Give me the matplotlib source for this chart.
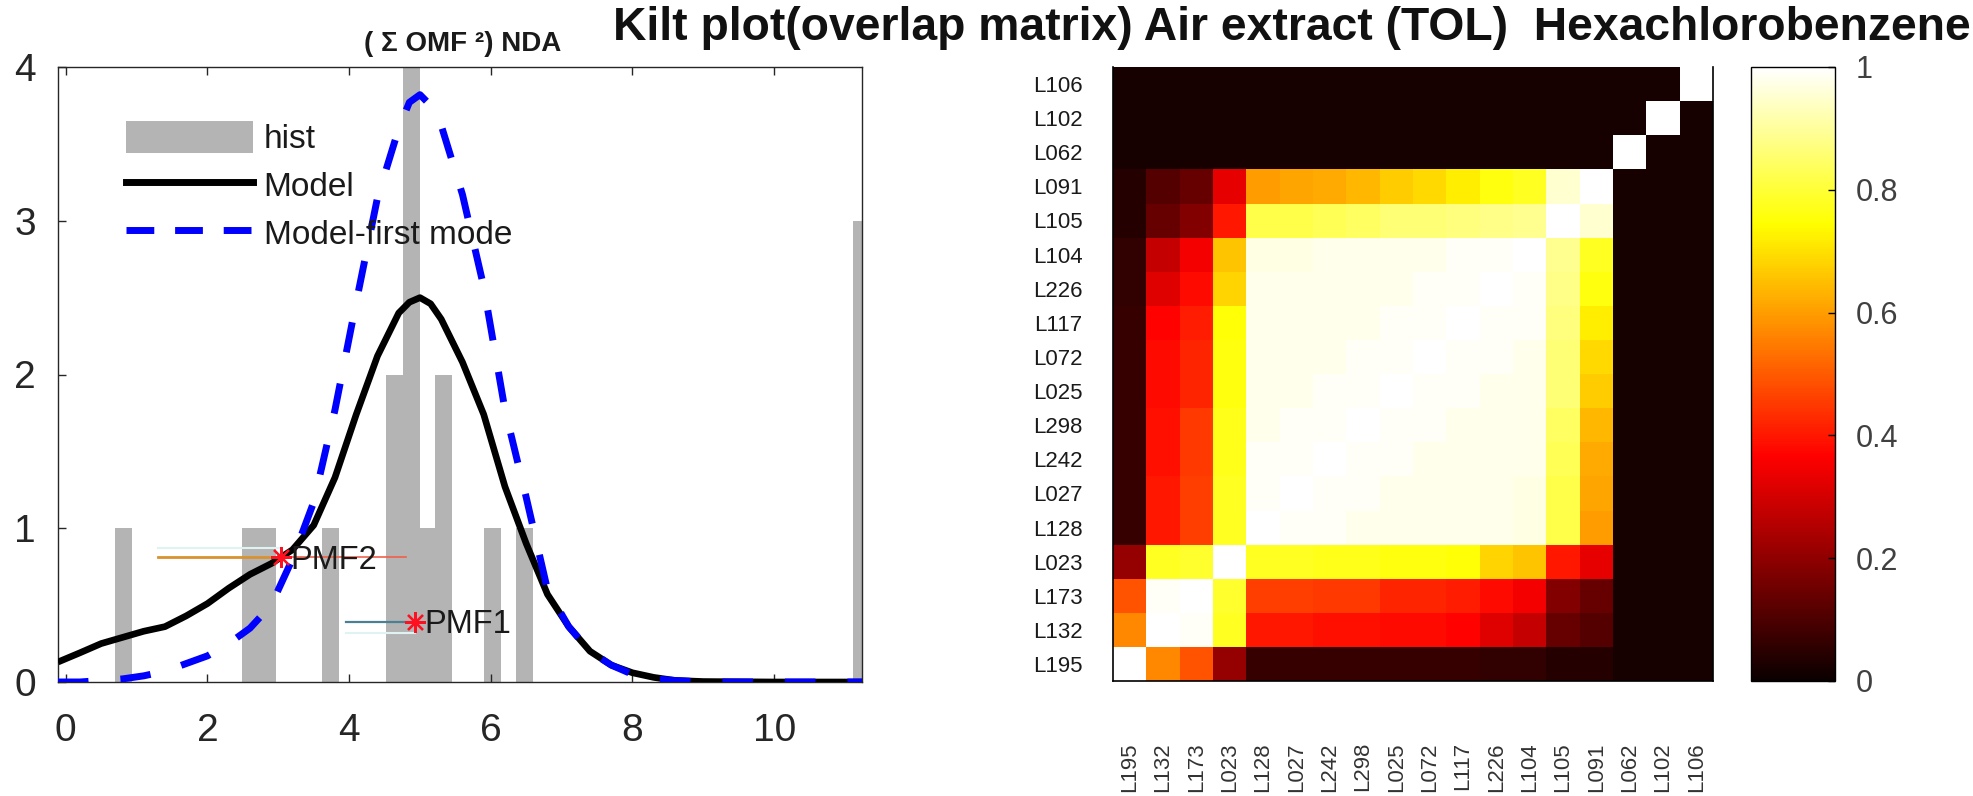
import matplotlib
matplotlib.use('Agg')
import matplotlib.pyplot as plt
import numpy as np
from matplotlib.patches import Patch
from matplotlib.lines import Line2D

plt.rcParams['font.family'] = ['Liberation Sans', 'DejaVu Sans']

# ---------------- data: left panel ----------------
hist_centers = [0.81, 2.61, 2.85, 3.74, 4.64, 4.885, 5.11, 5.33, 6.02, 6.48, 11.24]
hist_counts = [1, 1, 1, 1, 2, 4, 1, 2, 1, 1, 3]

model_x = [-0.11, 0.2, 0.5, 0.8, 1.1, 1.4, 1.7, 2.0, 2.3, 2.6, 2.9, 3.2, 3.5, 3.8,
           4.1, 4.4, 4.7, 4.85, 5.0, 5.15, 5.3, 5.6, 5.9, 6.2, 6.5, 6.8, 7.1, 7.4,
           7.7, 8.0, 8.3, 8.6, 9.0, 10.0, 11.24]
model_y = [0.13, 0.19, 0.25, 0.29, 0.33, 0.36, 0.43, 0.51, 0.61, 0.70, 0.77, 0.86, 1.02, 1.33,
           1.74, 2.12, 2.40, 2.47, 2.50, 2.46, 2.36, 2.08, 1.74, 1.27, 0.90, 0.57, 0.36, 0.20,
           0.11, 0.06, 0.03, 0.01, 0.003, 0.0, 0.0]
mode1_y = [0.0, 0.0, 0.01, 0.02, 0.04, 0.07, 0.12, 0.17, 0.25, 0.35, 0.50, 0.80, 1.17, 1.77,
           2.47, 3.15, 3.60, 3.77, 3.82, 3.75, 3.62, 3.17, 2.57, 1.77, 1.20, 0.60, 0.36, 0.20,
           0.11, 0.05, 0.02, 0.01, 0.0, 0.0, 0.0]

pmf_names = ['PMF1', 'PMF2']
pmf_x = [4.93, 3.04]
pmf_y = [0.39, 0.81]
pmf_lo = [3.95, 1.30]
pmf_hi = [4.93, 4.80]

legend_labels = ['hist', 'Model', 'Model-first mode']
left_title = '( \u03a3 OMF \u00b2) NDA'
main_title = 'Kilt plot(overlap matrix) Air extract (TOL)  Hexachlorobenzene'

# ---------------- data: right panel ----------------
labels = ['L195', 'L132', 'L173', 'L023', 'L128', 'L027', 'L242', 'L298', 'L025',
          'L072', 'L117', 'L226', 'L104', 'L105', 'L091', 'L062', 'L102', 'L106']
overlap = [
    [1.00, 0.57, 0.49, 0.21, 0.07, 0.07, 0.07, 0.07, 0.07, 0.07, 0.07, 0.06, 0.06, 0.04, 0.04, 0.02, 0.02, 0.02],
    [0.57, 1.00, 0.99, 0.78, 0.40, 0.40, 0.39, 0.39, 0.38, 0.38, 0.37, 0.32, 0.28, 0.14, 0.11, 0.02, 0.02, 0.02],
    [0.49, 0.99, 1.00, 0.79, 0.46, 0.46, 0.45, 0.45, 0.42, 0.42, 0.41, 0.38, 0.35, 0.18, 0.14, 0.02, 0.02, 0.02],
    [0.21, 0.78, 0.79, 1.00, 0.78, 0.78, 0.77, 0.77, 0.76, 0.76, 0.75, 0.68, 0.66, 0.40, 0.33, 0.02, 0.02, 0.02],
    [0.07, 0.40, 0.46, 0.78, 1.00, 0.99, 0.99, 0.98, 0.98, 0.98, 0.98, 0.98, 0.97, 0.82, 0.60, 0.02, 0.02, 0.02],
    [0.07, 0.40, 0.46, 0.78, 0.99, 1.00, 0.99, 0.99, 0.98, 0.98, 0.98, 0.98, 0.97, 0.82, 0.61, 0.02, 0.02, 0.02],
    [0.07, 0.39, 0.45, 0.77, 0.99, 0.99, 1.00, 0.99, 0.99, 0.98, 0.98, 0.98, 0.98, 0.83, 0.62, 0.02, 0.02, 0.02],
    [0.07, 0.39, 0.45, 0.77, 0.98, 0.99, 0.99, 1.00, 0.99, 0.99, 0.98, 0.98, 0.98, 0.84, 0.64, 0.02, 0.02, 0.02],
    [0.07, 0.38, 0.42, 0.76, 0.98, 0.98, 0.99, 0.99, 1.00, 0.99, 0.99, 0.98, 0.98, 0.86, 0.67, 0.02, 0.02, 0.02],
    [0.07, 0.38, 0.42, 0.76, 0.98, 0.98, 0.98, 0.99, 0.99, 1.00, 0.99, 0.99, 0.98, 0.86, 0.69, 0.02, 0.02, 0.02],
    [0.07, 0.37, 0.41, 0.75, 0.98, 0.98, 0.98, 0.98, 0.99, 0.99, 1.00, 0.99, 0.99, 0.87, 0.72, 0.02, 0.02, 0.02],
    [0.06, 0.32, 0.38, 0.68, 0.98, 0.98, 0.98, 0.98, 0.98, 0.99, 0.99, 1.00, 0.99, 0.88, 0.76, 0.02, 0.02, 0.02],
    [0.06, 0.28, 0.35, 0.66, 0.97, 0.97, 0.98, 0.98, 0.98, 0.98, 0.99, 0.99, 1.00, 0.89, 0.78, 0.02, 0.02, 0.02],
    [0.04, 0.14, 0.18, 0.40, 0.82, 0.82, 0.83, 0.84, 0.86, 0.86, 0.87, 0.88, 0.89, 1.00, 0.95, 0.02, 0.02, 0.02],
    [0.04, 0.11, 0.14, 0.33, 0.60, 0.61, 0.62, 0.64, 0.67, 0.69, 0.72, 0.76, 0.78, 0.95, 1.00, 0.02, 0.02, 0.02],
    [0.02, 0.02, 0.02, 0.02, 0.02, 0.02, 0.02, 0.02, 0.02, 0.02, 0.02, 0.02, 0.02, 0.02, 0.02, 1.00, 0.02, 0.02],
    [0.02, 0.02, 0.02, 0.02, 0.02, 0.02, 0.02, 0.02, 0.02, 0.02, 0.02, 0.02, 0.02, 0.02, 0.02, 0.02, 1.00, 0.02],
    [0.02, 0.02, 0.02, 0.02, 0.02, 0.02, 0.02, 0.02, 0.02, 0.02, 0.02, 0.02, 0.02, 0.02, 0.02, 0.02, 0.02, 1.00],
]
cbar_ticks = [0, 0.2, 0.4, 0.6, 0.8, 1.0]
cbar_ticklabels = ['0', '0.2', '0.4', '0.6', '0.8', '1']

# ---------------- figure ----------------
W, H = 1973, 796
fig = plt.figure(figsize=(W / 100, H / 100), dpi=100)


def box(l, t, r, b):
    return [l / W, 1 - b / H, (r - l) / W, (b - t) / H]


tick_color = '#262626'
hist_color = '#b4b4b4'

# ----- left panel -----
ax1 = fig.add_axes(box(58, 67, 862, 682))
ax1.bar(hist_centers, hist_counts, width=0.24, color=hist_color, linewidth=0, zorder=1)
ax1.plot(model_x, model_y, color='black', lw=4.8, zorder=3, solid_capstyle='butt',
         solid_joinstyle='round')
ax1.plot(model_x, mode1_y, color='#0000ff', lw=5, dashes=(4.4, 4.6), zorder=4)

# PMF range lines and markers
ax1.plot([pmf_lo[1], pmf_x[1]], [pmf_y[1] + 0.06, pmf_y[1] + 0.06], color='#dff3f3', lw=1.5, zorder=2)
ax1.plot([pmf_lo[1], pmf_x[1]], [pmf_y[1], pmf_y[1]], color='#d9922e', lw=2, zorder=2)
ax1.plot([pmf_x[1], pmf_hi[1]], [pmf_y[1], pmf_y[1]], color='#f0604a', lw=1.2, zorder=2)
ax1.plot([pmf_lo[0], pmf_hi[0]], [pmf_y[0] - 0.07, pmf_y[0] - 0.07], color='#dff3f3', lw=1.5, zorder=2)
ax1.plot([pmf_lo[0], pmf_hi[0]], [pmf_y[0], pmf_y[0]], color='#4a7f95', lw=1.6, zorder=2)
ax1.plot(pmf_x, pmf_y, linestyle='none', marker=(8, 2, 0), markersize=15, color='#ff1020',
         markeredgewidth=1.6, zorder=5)
for name, px, py in zip(pmf_names, pmf_x, pmf_y):
    ax1.annotate(name, (px, py), xytext=(7, -2), textcoords='offset points',
                 ha='left', va='center', fontsize=23.5, color='#1a1a1a', zorder=6)

ax1.set_xlim(-0.11, 11.24)
ax1.set_ylim(0, 4)
ax1.set_xticks([0, 2, 4, 6, 8, 10])
ax1.set_yticks([0, 1, 2, 3, 4])
ax1.tick_params(axis='both', direction='in', length=6, width=1, colors=tick_color,
                labelsize=28, top=True, right=False)
ax1.tick_params(axis='x', pad=22)
ax1.tick_params(axis='y', pad=16)
for sp in ax1.spines.values():
    sp.set_color(tick_color)
    sp.set_linewidth(1.0)

handles = [Patch(facecolor=hist_color, edgecolor='none'),
           Line2D([0], [0], color='black', lw=5),
           Line2D([0], [0], color='#0000ff', lw=5, dashes=(4.0, 3.0))]
leg = ax1.legend(handles, legend_labels, loc='upper left', bbox_to_anchor=(0.0846, 0.912),
                 frameon=False, fontsize=24, handlelength=3.8, handleheight=1.1,
                 handletextpad=0.33, labelspacing=0.4, borderpad=0, borderaxespad=0)
for t in leg.get_texts():
    t.set_color('#1a1a1a')

# ----- heatmap -----
ax2 = fig.add_axes(box(1113, 67, 1713, 681))
im = ax2.imshow(np.array(overlap), cmap='hot', vmin=0, vmax=1, origin='lower',
                aspect='auto', interpolation='nearest')
ax2.set_xticks(range(len(labels)))
ax2.set_yticks(range(len(labels)))
ax2.set_xticklabels(labels, rotation=90, fontsize=16, color='#333333')
ax2.set_yticklabels(labels, fontsize=16, color='#1a1a1a')
ax2.tick_params(axis='both', length=0)
ax2.tick_params(axis='x', pad=44)
ax2.tick_params(axis='y', pad=22)
ax2.spines['top'].set_visible(False)
for s in ['left', 'bottom', 'right']:
    ax2.spines[s].set_linewidth(1.2)
    ax2.spines[s].set_color('black')

# ----- colorbar -----
cax = fig.add_axes(box(1751, 67, 1835, 681))
cb = fig.colorbar(im, cax=cax)
cb.set_ticks(cbar_ticks)
cb.set_ticklabels(cbar_ticklabels)
cax.tick_params(direction='in', length=5, width=1, labelsize=22, labelcolor='#404040',
                color='black', pad=15)
cb.outline.set_linewidth(1.0)

# ----- titles -----
fig.text(463 / W, 1 - 44 / H, left_title, ha='center', va='center', fontsize=20,
         fontweight='bold', color='#1a1a1a')
fig.text(613 / W, 1 - 28 / H, main_title, ha='left', va='center', fontsize=33.3,
         fontweight='bold', color='#111111')

fig.savefig('out.png', dpi=100, facecolor='white')
